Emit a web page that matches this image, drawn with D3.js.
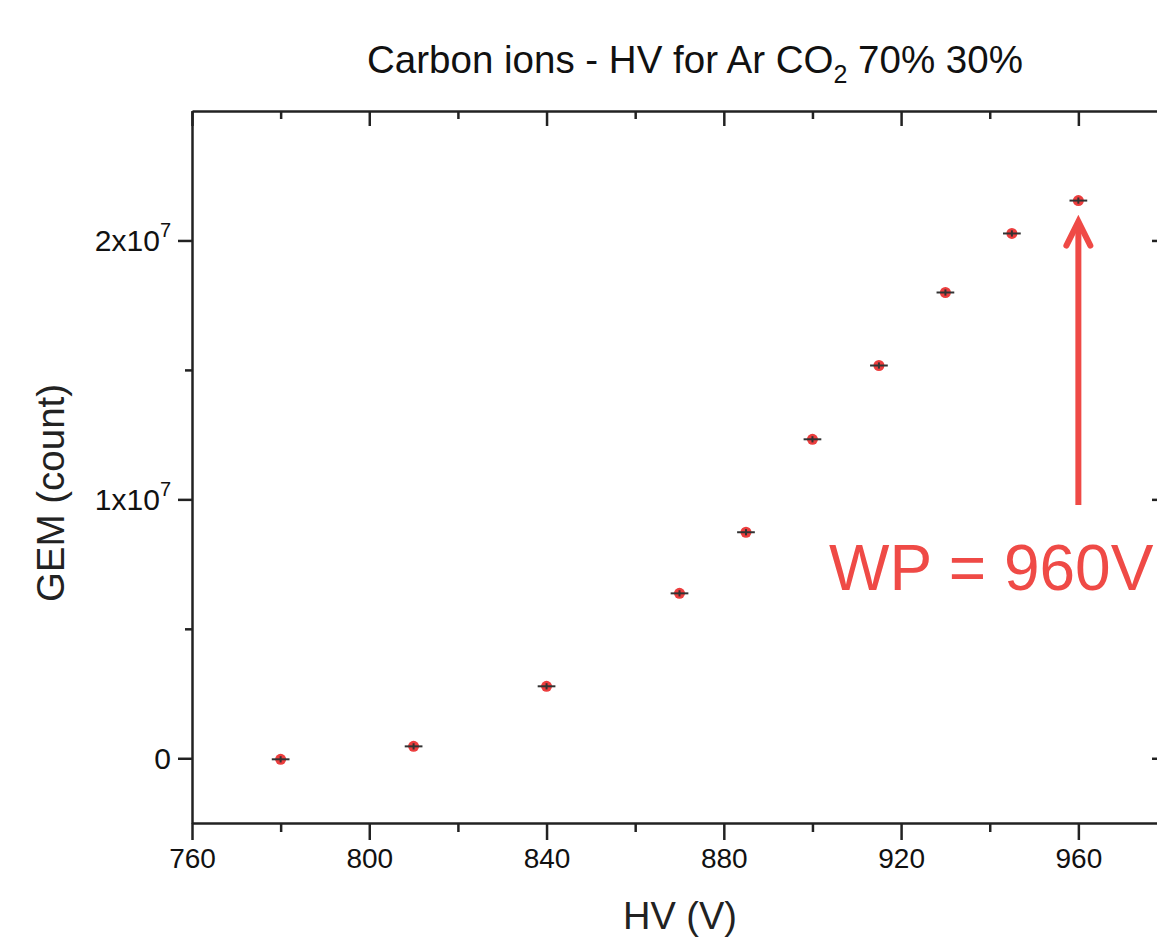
<!DOCTYPE html>
<html>
<head>
<meta charset="utf-8">
<script src="https://cdn.jsdelivr.net/npm/d3@7"></script>
<style>
  html, body { margin: 0; padding: 0; background: #fff; overflow: hidden; }
  svg { display: block; font-family: "Liberation Sans", Arial, sans-serif; }
</style>
</head>
<body>
<svg id="chart" width="1157" height="937"></svg>
<script>
// ---- data ----
const hv = [780, 810, 840, 870, 885, 900, 915, 930, 945, 960];
const gem = [-0.004e7, 0.046e7, 0.278e7, 0.637e7, 0.873e7, 1.232e7, 1.517e7, 1.799e7, 2.027e7, 2.154e7];
const hvErr = [2, 2, 2, 2, 2, 2, 2, 2, 2, 2];
const gemErr = [1.2e5, 1.2e5, 1.2e5, 1.2e5, 1.2e5, 1.2e5, 1.2e5, 1.2e5, 1.2e5, 1.2e5];
const xMajorTicks = [760, 800, 840, 880, 920, 960];
const xMinorTicks = [780, 820, 860, 900, 940, 980];
const yMajorTicks = [0, 1e7, 2e7];
const yMinorTicks = [0.5e7, 1.5e7];
const yTickMantissa = ["0", "1", "2"];
const titleText = "Carbon ions - HV for Ar CO";
const annotationText = "WP = 960V";
const wpValue = 960;

// ---- layout ----
const svg = d3.select("#chart");
const mLeft = 192, mRight = 1167, mTop = 111, mBottom = 823;
const x = d3.scaleLinear().domain([760, 980]).range([mLeft, mRight]);
const y = d3.scaleLinear().domain([-0.25e7, 2.5e7]).range([mBottom, mTop]);

const axisColor = "#222";
function styleAxis(g) {
  g.selectAll("path").attr("stroke", axisColor).attr("stroke-width", 2.5);
  g.selectAll("line").attr("stroke", axisColor).attr("stroke-width", 2.5);
  g.selectAll("text").attr("fill", "#111").attr("font-family", "Liberation Sans, Arial, sans-serif");
}

// bottom axis (outward ticks)
const gB = svg.append("g").attr("transform", `translate(0,${mBottom})`)
  .call(d3.axisBottom(x).tickValues(xMajorTicks).tickSize(17).tickSizeOuter(0).tickPadding(8).tickFormat(d3.format("d")));
gB.selectAll("text").attr("font-size", 28);
svg.append("g").attr("transform", `translate(0,${mBottom})`)
  .call(d3.axisBottom(x).tickValues(xMinorTicks).tickSize(9).tickFormat(""))
  .call(g => g.select("path").remove()).call(styleAxis);
styleAxis(gB);

// top axis (inward ticks)
const gT = svg.append("g").attr("transform", `translate(0,${mTop})`)
  .call(d3.axisBottom(x).tickValues(xMajorTicks).tickSize(15).tickSizeOuter(0).tickFormat(""));
styleAxis(gT);
svg.append("g").attr("transform", `translate(0,${mTop})`)
  .call(d3.axisBottom(x).tickValues(xMinorTicks).tickSize(8).tickFormat(""))
  .call(g => g.select("path").remove()).call(styleAxis);

// left axis (outward ticks)
const gL = svg.append("g").attr("transform", `translate(${mLeft},0)`)
  .call(d3.axisLeft(y).tickValues(yMajorTicks).tickSize(14).tickSizeOuter(0).tickFormat(""));
styleAxis(gL);
svg.append("g").attr("transform", `translate(${mLeft},0)`)
  .call(d3.axisLeft(y).tickValues(yMinorTicks).tickSize(7).tickFormat(""))
  .call(g => g.select("path").remove()).call(styleAxis);

// y tick labels with superscript
yMajorTicks.forEach((v, i) => {
  const t = svg.append("text")
    .attr("x", mLeft - 21).attr("y", y(v) + 11)
    .attr("text-anchor", "end").attr("font-size", 30).attr("fill", "#111");
  if (v === 0) {
    t.text(yTickMantissa[i]);
  } else {
    t.append("tspan").text(yTickMantissa[i] + "x10");
    t.append("tspan").attr("font-size", 20).attr("dy", -14).text("7");
  }
});

// right axis (inward ticks)
const gR = svg.append("g").attr("transform", `translate(${mRight},0)`)
  .call(d3.axisLeft(y).tickValues(yMajorTicks).tickSize(15).tickSizeOuter(0).tickFormat(""));
styleAxis(gR);
svg.append("g").attr("transform", `translate(${mRight},0)`)
  .call(d3.axisLeft(y).tickValues(yMinorTicks).tickSize(8).tickFormat(""))
  .call(g => g.select("path").remove()).call(styleAxis);

// ---- titles ----
const title = svg.append("text").attr("x", 695).attr("y", 73)
  .attr("text-anchor", "middle").attr("font-size", 38.5).attr("fill", "#111");
title.append("tspan").text(titleText);
title.append("tspan").attr("font-size", 25).attr("dy", 10).text("2");
title.append("tspan").attr("dy", -10).text(" 70% 30%");

svg.append("text").attr("x", 680).attr("y", 929)
  .attr("text-anchor", "middle").attr("font-size", 38).attr("fill", "#222").text("HV (V)");

svg.append("text")
  .attr("transform", `translate(64,${(mTop + mBottom) / 2 + 26}) rotate(-90)`)
  .attr("text-anchor", "middle").attr("font-size", 38.5).attr("fill", "#222").text("GEM (count)");

// ---- data marks ----
const pts = hv.map((h, i) => ({ h, g: gem[i], ex: hvErr[i], ey: gemErr[i] }));
const red = "#ec3e3e";
svg.append("g").selectAll("circle").data(pts).join("circle")
  .attr("cx", d => x(d.h)).attr("cy", d => y(d.g)).attr("r", 5.5)
  .attr("fill", red);
const eb = svg.append("g").attr("stroke", "#333").attr("stroke-width", 2);
eb.selectAll("line.ex").data(pts).join("line").attr("class", "ex")
  .attr("x1", d => x(d.h - d.ex)).attr("x2", d => x(d.h + d.ex))
  .attr("y1", d => y(d.g)).attr("y2", d => y(d.g));
eb.selectAll("line.ey").data(pts).join("line").attr("class", "ey")
  .attr("x1", d => x(d.h)).attr("x2", d => x(d.h))
  .attr("y1", d => y(d.g - d.ey)).attr("y2", d => y(d.g + d.ey));

// ---- annotation ----
const annColor = "#ef4a46";
const ax = x(wpValue);
const tipY = y(gem[gem.length - 1]) + 21;
svg.append("line").attr("x1", ax).attr("x2", ax).attr("y1", 505).attr("y2", tipY + 2)
  .attr("stroke", annColor).attr("stroke-width", 6);
svg.append("polyline")
  .attr("points", `${ax - 12},${tipY + 24} ${ax},${tipY} ${ax + 12},${tipY + 24}`)
  .attr("fill", "none").attr("stroke", annColor).attr("stroke-width", 6)
  .attr("stroke-linecap", "round").attr("stroke-linejoin", "miter");
svg.append("text").attr("x", 829).attr("y", 590)
  .attr("font-size", 64).attr("fill", annColor).text(annotationText);
</script>
</body>
</html>
